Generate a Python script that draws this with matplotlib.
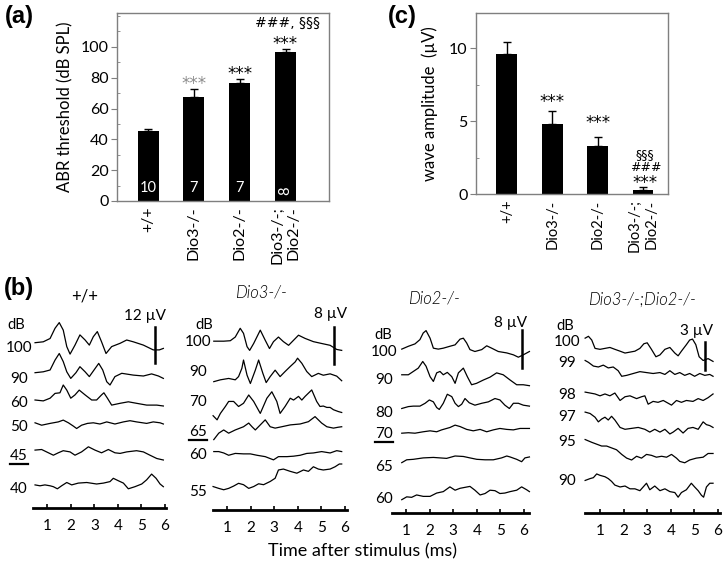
import matplotlib
matplotlib.use('Agg')
import matplotlib.pyplot as plt
from matplotlib.lines import Line2D
from matplotlib.ticker import MultipleLocator

plt.rcParams['font.family'] = ['Lato', 'DejaVu Sans']

# ---------------- data ----------------
genotypes = ['+/+', 'Dio3-/-', 'Dio2-/-', 'Dio3-/-;\nDio2-/-']
abr_threshold = [45.4, 67.7, 76.4, 97.0]      # dB SPL
abr_sem = [1.3, 4.8, 2.6, 1.5]
abr_n = ['10', '7', '7', '8']
wave_amp = [9.6, 4.8, 3.3, 0.25]              # uV
wave_sem = [0.8, 0.9, 0.6, 0.2]

# ABR traces: time (ms) and deflection (uV) for each level
wt_levels = ['100', '90', '60', '50', '45', '40']
wt_t = [
    [0.47,0.82,1.11,1.32,1.50,1.67,1.82,1.96,2.17,2.38,2.60,2.78,2.95,3.12,3.30,3.49,3.73,4.09,4.37,4.65,5.08,5.50,5.76,5.93],
    [0.47,0.82,1.11,1.32,1.50,1.67,1.82,1.99,2.21,2.38,2.60,2.78,2.98,3.18,3.35,3.52,3.66,3.87,4.16,4.65,5.08,5.43,5.72,5.93],
    [0.47,0.82,1.11,1.32,1.53,1.67,1.82,1.99,2.17,2.35,2.60,2.88,3.09,3.30,3.40,3.55,3.73,4.09,4.44,4.79,5.22,5.65,5.93],
    [0.47,0.75,1.11,1.46,1.67,1.89,2.10,2.24,2.45,2.70,2.95,3.23,3.52,3.87,4.23,4.51,4.79,5.22,5.50,5.79,5.93],
    [0.47,0.75,0.96,1.25,1.46,1.67,1.96,2.17,2.45,2.74,3.02,3.30,3.59,3.87,4.09,4.37,4.79,5.08,5.36,5.65,5.93],
    [0.47,0.68,0.89,1.11,1.25,1.42,1.60,1.82,2.03,2.31,2.67,3.09,3.38,3.66,3.80,4.01,4.23,4.44,4.72,5.01,5.22,5.43,5.62,5.79,5.93],
]
wt_v = [
    [0,0.3,1.4,4.8,6.7,4.2,-1.3,-3.8,-0.8,2.6,0.9,-0.8,2.0,3.7,0.3,-3.6,-1.3,-0.2,0.9,0.3,-0.8,-2.4,-2.4,-1.9],
    [0,0.3,0.9,4.2,6.4,3.7,0.3,-1.9,0,2.0,0.3,-1.3,0.9,3.1,0.9,-3.0,-4.1,-1.3,-0.2,-0.8,-1.1,-0.4,-1.1,-1.9],
    [0,-0.3,0.6,2.2,2.4,5.0,3.3,0.6,1.7,3.3,1.7,0,0,1.7,2.4,0.6,-1.7,-1.1,-0.6,-1.1,-1.7,-1.7,-2.0],
    [0,-0.8,-0.2,0.3,0.9,0,-1.1,-1.9,-0.8,-0.2,0,-0.4,0.3,-0.4,0.3,0.7,0.3,-0.2,0.3,0,-0.4],
    [0,0.2,-0.6,-1.7,-0.9,-0.2,-0.6,-1.7,-0.6,1.1,0,-0.9,0.2,-0.9,-1.1,-0.6,-0.2,-0.6,-1.7,-2.8,-3.3],
    [0,-0.3,0,-0.3,-0.6,-1.3,-0.3,0.8,0,0.6,0.8,0.3,0.6,1.1,2.2,1.4,0.6,-1.3,-0.6,0.3,1.7,3.6,2.2,0.3,-0.6],
]

d3_levels = ['100', '90', '70', '65', '60', '55']
d3_t = [
    [0.44,0.86,1.14,1.35,1.56,1.70,1.85,1.96,2.13,2.41,2.62,2.80,2.97,3.18,3.39,3.61,3.82,4.03,4.31,4.66,5.01,5.37,5.65,5.86],
    [0.44,0.72,1.07,1.35,1.49,1.63,1.70,1.85,1.99,2.20,2.34,2.52,2.66,2.83,3.04,3.25,3.46,3.68,3.89,3.99,4.17,4.38,4.59,4.87,5.08,5.37,5.65,5.86],
    [0.41,0.58,0.72,0.93,1.07,1.28,1.49,1.70,1.92,2.13,2.41,2.69,2.90,3.11,3.25,3.46,3.68,3.82,4.03,4.17,4.31,4.45,4.59,4.80,4.94,5.08,5.23,5.37,5.51,5.72,5.86],
    [0.44,0.65,0.86,1.07,1.35,1.70,1.92,2.06,2.20,2.41,2.62,2.83,3.04,3.32,3.68,4.10,4.45,4.73,5.01,5.23,5.51,5.72,5.86],
    [0.44,0.65,0.86,1.07,1.35,1.70,1.99,2.27,2.62,2.97,3.18,3.54,3.82,4.10,4.38,4.66,5.01,5.37,5.65,5.86],
    [0.41,0.65,0.86,1.07,1.28,1.49,1.70,1.92,2.13,2.34,2.55,2.83,3.04,3.18,3.39,3.68,3.96,4.24,4.45,4.66,4.87,5.08,5.37,5.58,5.76,5.86],
]
d3_v = [
    [0,0,0.1,0.9,2.8,1.7,-1.2,-2.0,-0.5,2.4,0.2,-1.6,-0.1,0.9,-0.1,-0.9,0.2,1.3,0.6,-0.1,-0.5,-0.9,-1.8,-2.0],
    [0,0.4,0.7,0.4,1.1,2.9,4.7,1.4,-0.4,2.5,4.7,1.8,-0.2,1.1,2.5,1.1,2.2,3.3,4.3,5.1,4.0,2.2,1.1,1.8,1.4,1.7,1.2,0.2],
    [-0.9,-1.8,-0.4,1.1,2.2,2.2,1.1,1.8,3.6,2.2,-0.4,2.9,4.3,2.2,-0.4,1.1,2.9,2.5,3.3,2.5,3.3,4.0,4.7,2.2,1.1,1.2,0.9,0.9,0.4,0,-0.2],
    [-1.4,0,0.7,0,0.7,1.4,2.2,1.4,0.7,1.8,2.9,1.4,1.1,1.4,1.8,2.0,2.5,3.6,2.2,1.4,1.1,1.3,1.4],
    [0.4,0.4,0.1,-0.4,0,-0.1,-0.1,-0.4,-0.7,-1.4,-0.7,-0.7,-0.6,-0.4,0,0.1,0.4,0.1,0.6,0.4],
    [0,-0.4,-0.7,-0.4,0.1,0.7,0.4,-0.4,0,0.6,0.4,1.1,1.8,3.6,3.8,3.3,2.9,3.6,3.3,4.3,3.8,3.6,3.8,4.3,4.9,4.9],
]

d2_levels = ['100', '90', '80', '70', '65', '60']
d2_t = [
    [0.82,1.10,1.38,1.59,1.73,1.85,2.02,2.16,2.37,2.58,2.86,3.08,3.29,3.43,3.57,3.71,3.92,4.21,4.42,4.63,4.91,5.27,5.55,5.76,5.97,6.23],
    [0.82,1.10,1.31,1.52,1.71,1.85,2.02,2.16,2.30,2.44,2.58,2.75,2.94,3.08,3.22,3.43,3.60,3.78,3.99,4.28,4.56,4.84,5.12,5.41,5.69,5.97,6.23],
    [0.82,1.10,1.31,1.59,1.81,1.99,2.16,2.30,2.41,2.58,2.75,2.94,3.08,3.22,3.36,3.50,3.68,3.92,4.21,4.49,4.77,4.98,5.19,5.38,5.55,5.76,5.97,6.23],
    [0.82,1.10,1.38,1.73,2.02,2.30,2.51,2.86,3.08,3.29,3.57,3.85,4.14,4.42,4.70,4.98,5.27,5.55,5.83,6.23],
    [0.82,1.03,1.31,1.73,2.16,2.44,2.72,3.08,3.43,3.71,4.00,4.35,4.70,5.05,5.27,5.41,5.69,5.90,6.04,6.23],
    [0.82,1.03,1.24,1.45,1.73,2.02,2.30,2.58,2.86,3.08,3.29,3.50,3.71,3.92,4.14,4.35,4.56,4.77,4.98,5.19,5.41,5.69,5.90,6.11,6.23],
]
d2_v = [
    [0,0.6,1.1,2.0,3.4,3.9,2.3,0.2,0,0.2,0.6,0.9,2.1,2.3,1.3,-0.1,-0.5,-0.1,0.7,0.2,-0.5,-0.8,-1.2,-1.7,-1.2,-0.5],
    [0,0,0.7,1.4,2.8,1.8,-0.4,-1.4,0.4,0.7,0,0.5,-0.4,-1.8,0.4,1.4,-0.4,-2.1,-1.8,-1.1,-0.5,0.4,0,-1.1,-2.1,-2.1,-2.3],
    [0,0.4,0.5,0.5,1.1,1.8,1.4,0.2,-0.2,1.1,3.0,2.5,1.1,0.4,0.9,2.1,1.2,0.7,1.1,1.4,2.1,1.8,0.7,0,1.1,1.1,0.7,0.5],
    [-0.1,0,-0.1,0.2,0.4,0.2,0.6,1.1,1.6,1.3,0.7,0.4,0.7,0.2,0.6,0.9,0.7,0.6,0.9,0.9],
    [-0.6,0,0.1,0.4,0.5,0.4,0.3,0.8,0.7,0.4,0.1,0,0,0.4,0.8,0.6,0.1,-0.4,0.4,0.6],
    [-0.6,0,-0.1,0.4,0.1,0.1,0.8,1.1,2.1,1.4,1.8,2.0,2.2,1.4,0.4,0.7,1.4,1.3,0.7,0.8,1.1,1.4,2.1,1.5,1.1],
]

dko_levels = ['100', '99', '98', '97', '95', '90']
dko_t = [
    [0.37,0.51,0.65,0.79,1.00,1.21,1.42,1.63,1.85,2.06,2.27,2.48,2.69,2.86,3.00,3.18,3.37,3.54,3.75,3.96,4.17,4.31,4.45,4.66,4.80,4.92,5.06,5.20,5.37,5.58,5.79],
    [0.37,0.51,0.72,0.93,1.14,1.35,1.56,1.77,1.92,2.13,2.41,2.69,2.97,3.25,3.54,3.75,3.96,4.17,4.38,4.59,4.80,5.01,5.23,5.44,5.65,5.79],
    [0.37,0.58,0.79,1.00,1.21,1.42,1.63,1.85,2.06,2.27,2.55,2.76,2.90,3.04,3.25,3.46,3.68,3.89,4.03,4.24,4.45,4.66,4.94,5.16,5.37,5.58,5.79],
    [0.37,0.58,0.79,0.93,1.07,1.21,1.35,1.49,1.63,1.85,2.06,2.34,2.62,2.90,3.11,3.32,3.54,3.75,3.96,4.10,4.31,4.52,4.73,4.94,5.16,5.37,5.51,5.65,5.79],
    [0.37,0.65,0.86,1.07,1.28,1.49,1.70,1.92,2.13,2.34,2.55,2.76,2.97,3.18,3.39,3.61,3.82,4.03,4.24,4.38,4.59,4.80,5.08,5.37,5.58,5.79],
    [0.37,0.58,0.72,0.86,1.00,1.21,1.35,1.49,1.63,1.85,2.06,2.27,2.48,2.69,2.83,2.97,3.11,3.32,3.54,3.75,3.96,4.17,4.31,4.45,4.66,4.87,5.01,5.16,5.30,5.39,5.51,5.65,5.79],
]
dko_v = [
    [0.7,0.9,0.5,-0.4,-0.5,-0.4,-0.3,-0.5,-0.7,-0.9,-0.8,-0.7,-0.4,0.1,0.2,-0.5,-1.3,-1.1,-0.5,-0.3,-0.9,-1.2,-0.7,0,0.5,0.6,0,-1.3,-1.7,-1.5,-1.8],
    [0.7,0.5,0.1,0,0.2,-0.1,0,-0.4,-1.0,-0.9,-0.7,-0.5,-0.6,-0.7,-0.6,-0.8,-0.4,-0.8,-0.6,-0.9,-0.7,-1.0,-0.7,-0.9,-0.8,-1.0],
    [0.5,0.4,0.3,0.1,0.3,0.1,0.4,-0.4,0,0.1,-0.2,0,0.1,-0.8,-0.5,-0.6,-0.4,-0.7,-0.9,-0.4,-0.6,-0.4,-0.5,-0.2,-0.4,-0.1,0.3],
    [1.25,1.1,0.7,0.2,0.5,0.7,0.4,0.8,0.4,-0.4,-0.6,-0.5,-0.4,-0.6,-0.9,-0.6,-0.9,-0.6,-1.1,-0.9,-0.5,-1.0,-0.5,-0.4,-0.6,0.2,-0.1,-0.2,-0.4],
    [1.1,0.8,0.6,0.4,0.4,0.2,0,-0.5,-0.9,-1.1,-0.7,-0.9,-0.5,-0.6,-0.8,-0.7,-0.8,-0.5,-0.9,-1.25,-1.4,-1.1,-0.9,-0.8,-0.4,-0.4],
    [0.7,0.9,1.0,1.4,1.25,1.1,0.9,0.6,0.2,0,0.1,-0.2,-0.2,-0.4,0,0.4,-0.3,0.1,-0.4,-0.2,-0.5,-0.6,-1.1,-0.6,-0.3,0.4,0,-0.4,-0.9,-1.1,0,0.4,0.4],
]

panel_titles = ['+/+', 'Dio3-/-', 'Dio2-/-', 'Dio3-/-;Dio2-/-']
scale_uv = [12, 8, 8, 3]
threshold_idx = [4, 3, 3, None]
time_ticks = [1, 2, 3, 4, 5, 6]

# ---------------- layout helpers ----------------
W, H = 725, 568
fig = plt.figure(figsize=(W / 100, H / 100), dpi=100)

def rect(x0, y0, x1, y1):
    return [x0 / W, 1 - y1 / H, (x1 - x0) / W, (y1 - y0) / H]

def ftext(x, y, s, **kw):
    fig.text(x / W, 1 - y / H, s, **kw)

def fline(x0, x1, y, lw=1.5):
    fig.add_artist(Line2D([x0 / W, x1 / W], [1 - y / H, 1 - y / H], color='black', lw=lw))

GRAY = '#7f7f7f'
STAR = dict(ha='center', va='baseline', fontsize=12, family='DejaVu Sans')
SIGN = dict(ha='center', va='baseline', family='DejaVu Sans')

def style_bar_axes(ax, minor):
    for s in ax.spines.values():
        s.set_color(GRAY)
        s.set_linewidth(1.0)
    ax.yaxis.set_minor_locator(MultipleLocator(minor))
    ax.tick_params(axis='y', which='major', direction='out', length=4, color=GRAY,
                   labelsize=11.5, pad=2)
    ax.tick_params(axis='y', which='minor', direction='in', length=2.5, color=GRAY)
    ax.tick_params(axis='x', length=0, pad=4)

x = list(range(len(genotypes)))

# ---------------- panel (a) ----------------
ax_a = fig.add_axes(rect(117, 13, 329, 201))
ax_a.bar(x, abr_threshold, width=0.46, color='black')
ax_a.errorbar(x, abr_threshold, yerr=[[0] * 4, abr_sem], fmt='none', ecolor='black',
              elinewidth=1, capsize=3, capthick=1)
ax_a.set_xlim(-0.68, 3.95)
ax_a.set_ylim(0, 122)
ax_a.set_yticks([0, 20, 40, 60, 80, 100])
style_bar_axes(ax_a, 10)
ax_a.set_xticks(x)
ax_a.set_xticklabels(genotypes, rotation=90, va='top', ha='center', fontsize=11.5,
                     multialignment='right')
ax_a.set_ylabel('ABR threshold (dB SPL)', fontsize=12, labelpad=5)
for i, n in enumerate(abr_n):
    ax_a.text(i, 4, n, color='white', ha='center', va='bottom', fontsize=10.5,
              rotation=90 if i == 3 else 0)
ax_a.text(1, abr_threshold[1] + abr_sem[1], '***', color='#8c8c8c', **STAR)
ax_a.text(2, abr_threshold[2] + abr_sem[2], '***', color='black', **STAR)
ax_a.text(3, abr_threshold[3] + abr_sem[3], '***', color='black', **STAR)
ax_a.text(3.05, abr_threshold[3] + abr_sem[3] + 14.7, '###, §§§', color='black',
          fontsize=10, **SIGN)

# ---------------- panel (c) ----------------
ax_c = fig.add_axes(rect(476, 13, 668, 194))
ax_c.bar(x, wave_amp, width=0.46, color='black')
ax_c.errorbar(x, wave_amp, yerr=[[0] * 4, wave_sem], fmt='none', ecolor='black',
              elinewidth=1, capsize=3, capthick=1)
ax_c.set_xlim(-0.68, 3.55)
ax_c.set_ylim(0, 12.4)
ax_c.set_yticks([0, 5, 10])
style_bar_axes(ax_c, 2.5)
ax_c.set_xticks(x)
ax_c.set_xticklabels(genotypes, rotation=90, va='top', ha='center', fontsize=10.5,
                     multialignment='right')
ax_c.set_ylabel('wave amplitude  (\u00b5V)', fontsize=12, labelpad=8)
ax_c.text(1, wave_amp[1] + wave_sem[1] + 0.25, '***', color='black', **STAR)
ax_c.text(2, wave_amp[2] + wave_sem[2] + 0.6, '***', color='black', **STAR)
ax_c.text(3.05, wave_amp[3] + wave_sem[3] - 0.05, '***', color='black', **STAR)
ax_c.text(3.05, 1.55, '###', fontsize=9, **SIGN)
ax_c.text(3.05, 2.45, '§§§', fontsize=9, **SIGN)

# ---------------- panel (b) ----------------
sub_cfg = [
    # ms0_px, px_per_ms, axis_y, px_per_uV, t0, t1, offsets (uV above axis)
    dict(ms0=24, pms=23.5, ay=508, ppu=3.0, t0=0.38, t1=6.04,
         off=[55.1, 45.1, 36.0, 28.4, 19.3, 7.7],
         lab_x=19, lab_y=[348, 379, 403, 427, 456, 489], db=(16, 325),
         title=(85, 296), bar_t=5.57, bar_top=327, stxt=(145, 316)),
    dict(ms0=203.4, pms=23.6, ay=510, ppu=4.6, t0=0.41, t1=6.10,
         off=[36.7, 27.9, 21.4, 16.7, 12.3, 5.1],
         lab_x=198, lab_y=[342, 372, 402, 432, 455, 492], db=(204, 325),
         title=(262, 293), bar_t=5.53, bar_top=327, stxt=(331, 314)),
    dict(ms0=382.4, pms=23.6, ay=513, ppu=4.75, t0=0.41, t1=6.21,
         off=[34.5, 29.1, 22.0, 16.9, 11.2, 3.4],
         lab_x=384, lab_y=[352, 380, 413, 434, 467, 499], db=(383, 335),
         title=(435, 298), bar_t=5.92, bar_top=330, stxt=(511, 323)),
    dict(ms0=576.4, pms=23.6, ay=513, ppu=9.3, t0=0.36, t1=6.08,
         off=[18.1, 15.7, 12.5, 9.6, 6.8, 2.8],
         lab_x=567, lab_y=[342, 363, 395, 417, 442, 481], db=(565, 326),
         title=(643, 300), bar_t=5.45, bar_top=342, stxt=(697, 331)),
]
traces_t = [wt_t, d3_t, d2_t, dko_t]
traces_v = [wt_v, d3_v, d2_v, dko_v]
levels = [wt_levels, d3_levels, d2_levels, dko_levels]

top_px = 300
for k, cfg in enumerate(sub_cfg):
    x0 = cfg['ms0'] + cfg['t0'] * cfg['pms']
    x1 = cfg['ms0'] + cfg['t1'] * cfg['pms']
    ax = fig.add_axes(rect(x0, top_px, x1, cfg['ay']))
    ax.set_xlim(cfg['t0'], cfg['t1'])
    ymax = (cfg['ay'] - top_px) / cfg['ppu']
    ax.set_ylim(0, ymax)
    ax.patch.set_alpha(0)
    for s in ['left', 'right', 'top']:
        ax.spines[s].set_visible(False)
    ax.spines['bottom'].set_linewidth(2.0)
    ax.set_yticks([])
    ax.set_xticks(time_ticks)
    ax.tick_params(axis='x', direction='in', length=3, width=1.2, labelsize=11, pad=8)
    for tt, vv, off in zip(traces_t[k], traces_v[k], cfg['off']):
        ax.plot(tt, [v + off for v in vv], color='black', lw=0.9, clip_on=False,
                solid_joinstyle='round')
    # scale bar
    ybar_top = (cfg['ay'] - cfg['bar_top']) / cfg['ppu']
    ax.plot([cfg['bar_t'], cfg['bar_t']], [ybar_top - scale_uv[k], ybar_top],
            color='black', lw=1.8, clip_on=False)
    ftext(cfg['stxt'][0], cfg['stxt'][1], f'{scale_uv[k]} \u00b5V', ha='center',
          va='center', fontsize=11)
    # level labels
    ftext(cfg['db'][0], cfg['db'][1], 'dB', ha='center', va='center', fontsize=10.5)
    for j, lab in enumerate(levels[k]):
        ftext(cfg['lab_x'], cfg['lab_y'][j], lab, ha='center', va='center', fontsize=11)
        if threshold_idx[k] == j:
            fline(cfg['lab_x'] - 9, cfg['lab_x'] + 9, cfg['lab_y'][j] + 8, lw=1.6)
    if k == 0:
        ftext(cfg['title'][0], cfg['title'][1], panel_titles[k], ha='center',
              va='center', fontsize=12)
    else:
        ftext(cfg['title'][0], cfg['title'][1], panel_titles[k], ha='center',
              va='center', fontsize=12, style='italic', fontweight=300,
              family=['Lato', 'DejaVu Sans'])

ftext(363, 551, 'Time after stimulus (ms)', ha='center', va='center', fontsize=13)

# panel letters
for lab, (px, py) in {'(a)': (19, 17), '(b)': (19, 288), '(c)': (402, 17)}.items():
    ftext(px, py, lab, ha='center', va='center', fontsize=17, fontweight='bold',
          family=['Liberation Sans', 'DejaVu Sans'])

fig.savefig('out.png', dpi=100)
